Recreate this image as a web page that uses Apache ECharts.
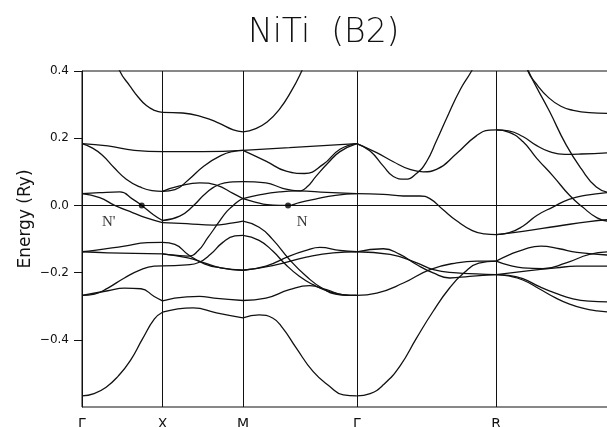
<!DOCTYPE html>
<html>
<head>
<meta charset="utf-8">
<script src="https://cdn.jsdelivr.net/npm/echarts@6/dist/echarts.min.js"></script>
<style>
  html, body { margin: 0; padding: 0; background: #fff; }
  #chart { width: 607px; height: 427px; }
</style>
</head>
<body>
<div id="chart"></div>
<script>
// high symmetry points along the path (k in units of Γ-X)
const kPoints = [0, 1, 2, 3.414, 5.146];
const kNames = ['Γ', 'X', 'M', 'Γ', 'R'];
const eTicks = [0.4, 0.2, 0, -0.2, -0.4];
const kMax = 6.56;
const eMin = -0.6, eMax = 0.4;

// Fermi surface crossing points
const fermiDots = [[0.742, 0], [2.56, 0]];
const dotNames = ["N'", 'N'];

// bands, one list of [k, E(Ry)] per band, per segment
const bandsGX = [
  [[0.43, 0.44], [0.469, 0.40], [0.594, 0.356], [0.70, 0.322], [0.80, 0.297], [0.90, 0.283], [1.0, 0.277]],
  [[0, 0.184], [0.321, 0.177], [0.65, 0.164], [1.0, 0.160]],
  [[0, 0.184], [0.12, 0.172], [0.25, 0.150], [0.40, 0.112], [0.55, 0.078], [0.72, 0.055], [0.87, 0.044], [1.0, 0.042]],
  [[0, 0.035], [0.22, 0.038], [0.47, 0.040], [0.634, 0.018], [0.742, 0.0], [0.883, -0.027], [1.0, -0.045]],
  [[0, 0.035], [0.22, 0.023], [0.406, 0.0], [0.634, -0.022], [0.80, -0.037], [1.0, -0.051]],
  [[0, -0.138], [0.156, -0.134], [0.527, -0.121], [0.815, -0.111], [1.0, -0.110]],
  [[0, -0.138], [0.321, -0.141], [0.65, -0.143], [1.0, -0.144]],
  [[0, -0.268], [0.156, -0.264], [0.321, -0.246], [0.527, -0.216], [0.733, -0.191], [0.897, -0.181], [1.0, -0.180]],
  [[0, -0.268], [0.321, -0.254], [0.527, -0.246], [0.733, -0.248], [0.897, -0.271], [1.0, -0.284]],
  [[0, -0.567], [0.15, -0.560], [0.30, -0.541], [0.45, -0.508], [0.60, -0.462], [0.75, -0.398], [0.90, -0.338], [1.0, -0.318]]
];

const bandsXM = [
  [[1.0, 0.277], [1.25, 0.275], [1.50, 0.263], [1.70, 0.245], [1.88, 0.225], [2.0, 0.219]],
  [[1.0, 0.160], [1.5, 0.160], [2.0, 0.164]],
  [[1.0, 0.042], [1.154, 0.047], [1.317, 0.075], [1.52, 0.118], [1.724, 0.148], [1.886, 0.161], [2.0, 0.164]],
  [[1.0, 0.042], [1.214, 0.058], [1.463, 0.067], [1.67, 0.060], [1.876, 0.036], [2.0, 0.020]],
  [[1.0, -0.045], [1.214, -0.032], [1.38, -0.002], [1.546, 0.038], [1.711, 0.063], [1.876, 0.070], [2.0, 0.071]],
  [[1.0, -0.051], [1.3, -0.054], [1.63, -0.059], [1.876, -0.052], [2.0, -0.047]],
  [[1.0, -0.110], [1.154, -0.116], [1.317, -0.146], [1.52, -0.174], [1.724, -0.186], [2.0, -0.193]],
  [[1.0, -0.144], [1.154, -0.148], [1.317, -0.151], [1.439, -0.136], [1.561, -0.097], [1.70, -0.050], [1.80, -0.018], [1.88, 0.0], [1.95, 0.014], [2.0, 0.020]],
  [[1.0, -0.144], [1.317, -0.156], [1.52, -0.171], [1.724, -0.186], [2.0, -0.193]],
  [[1.0, -0.180], [1.3, -0.177], [1.45, -0.170], [1.6, -0.145], [1.75, -0.110], [1.9, -0.091], [2.0, -0.089]],
  [[1.0, -0.284], [1.3, -0.272], [1.46, -0.271], [1.64, -0.276], [2.0, -0.283]],
  [[1.0, -0.318], [1.38, -0.305], [1.67, -0.320], [2.0, -0.335]]
];

const bandsMG = [
  [[2.0, 0.219], [2.15, 0.228], [2.30, 0.248], [2.45, 0.285], [2.60, 0.34], [2.73, 0.40], [2.82, 0.45]],
  [[2.0, 0.164], [2.577, 0.172], [2.996, 0.178], [3.414, 0.184]],
  [[2.0, 0.164], [2.285, 0.132], [2.536, 0.102], [2.766, 0.095], [2.996, 0.122], [3.205, 0.167], [3.414, 0.184]],
  [[2.0, 0.071], [2.285, 0.067], [2.494, 0.051], [2.682, 0.043], [2.787, 0.053], [2.912, 0.088], [3.059, 0.127], [3.205, 0.160], [3.414, 0.184]],
  [[2.0, 0.020], [2.201, 0.031], [2.452, 0.040], [2.682, 0.043], [3.038, 0.039], [3.414, 0.035]],
  [[2.0, 0.020], [2.15, 0.010], [2.30, 0.002], [2.45, 0.0], [2.56, 0.0], [2.70, 0.008], [2.90, 0.019], [3.15, 0.030], [3.414, 0.035]],
  [[2.0, -0.047], [2.201, -0.065], [2.368, -0.101], [2.577, -0.161], [2.787, -0.211], [2.996, -0.248], [3.205, -0.266], [3.414, -0.268]],
  [[2.0, -0.089], [2.2, -0.104], [2.37, -0.136], [2.53, -0.176], [2.70, -0.211], [2.87, -0.236], [3.05, -0.255], [3.25, -0.266], [3.414, -0.268]],
  [[2.0, -0.193], [2.285, -0.181], [2.577, -0.151], [2.787, -0.134], [2.954, -0.125], [3.205, -0.134], [3.414, -0.138]],
  [[2.0, -0.193], [2.368, -0.179], [2.787, -0.154], [3.121, -0.141], [3.414, -0.138]],
  [[2.0, -0.283], [2.285, -0.276], [2.577, -0.251], [2.828, -0.239], [3.038, -0.251], [3.247, -0.266], [3.414, -0.268]],
  [[2.0, -0.335], [2.201, -0.326], [2.368, -0.335], [2.494, -0.365], [2.661, -0.424], [2.870, -0.494], [3.079, -0.539], [3.247, -0.564], [3.414, -0.567]]
];

const bandsGR = [
  [[3.414, 0.184], [3.579, 0.162], [3.744, 0.117], [3.868, 0.086], [4.012, 0.078], [4.156, 0.095], [4.28, 0.13], [4.40, 0.19], [4.55, 0.27], [4.70, 0.345], [4.84, 0.40], [4.92, 0.44]],
  [[3.414, 0.184], [3.661, 0.157], [3.868, 0.130], [4.074, 0.107], [4.239, 0.100], [4.404, 0.107], [4.651, 0.154], [4.899, 0.207], [5.064, 0.224], [5.146, 0.225]],
  [[3.414, 0.035], [3.744, 0.033], [3.992, 0.028], [4.198, 0.028], [4.322, 0.02], [4.487, -0.013], [4.65, -0.045], [4.85, -0.075], [5.0, -0.085], [5.146, -0.087]],
  [[3.414, -0.138], [3.744, -0.129], [3.95, -0.146], [4.156, -0.176], [4.363, -0.201], [4.569, -0.216], [4.816, -0.211], [5.146, -0.206]],
  [[3.414, -0.138], [3.828, -0.146], [4.159, -0.171], [4.366, -0.191], [4.656, -0.201], [4.90, -0.204], [5.146, -0.206]],
  [[3.414, -0.268], [3.662, -0.261], [3.993, -0.231], [4.324, -0.191], [4.656, -0.171], [4.905, -0.166], [5.146, -0.166]],
  [[3.414, -0.567], [3.58, -0.560], [3.744, -0.534], [3.95, -0.478], [4.156, -0.395], [4.363, -0.315], [4.569, -0.245], [4.75, -0.200], [4.93, -0.172], [5.146, -0.166]]
];

const bandsRX = [
  [[5.50, 0.45], [5.538, 0.401], [5.65, 0.36], [5.80, 0.32], [5.95, 0.295], [6.10, 0.283], [6.30, 0.276], [6.56, 0.274]],
  [[5.50, 0.44], [5.54, 0.403], [5.808, 0.28], [6.015, 0.18], [6.20, 0.11], [6.39, 0.055], [6.56, 0.038]],
  [[5.146, 0.225], [5.30, 0.222], [5.477, 0.205], [5.65, 0.178], [5.808, 0.160], [6.0, 0.152], [6.2, 0.153], [6.56, 0.157]],
  [[5.146, 0.225], [5.30, 0.218], [5.477, 0.19], [5.65, 0.14], [5.85, 0.088], [6.057, 0.03], [6.22, -0.005], [6.40, -0.037], [6.56, -0.048]],
  [[5.146, -0.087], [5.30, -0.082], [5.477, -0.062], [5.65, -0.03], [5.85, -0.005], [6.05, 0.018], [6.25, 0.030], [6.56, 0.039]],
  [[5.146, -0.087], [5.477, -0.077], [5.9, -0.062], [6.3, -0.048], [6.56, -0.042]],
  [[5.146, -0.166], [5.30, -0.148], [5.477, -0.132], [5.70, -0.121], [5.93, -0.129], [6.15, -0.140], [6.56, -0.148]],
  [[5.146, -0.166], [5.30, -0.178], [5.477, -0.186], [5.726, -0.188], [6.015, -0.171], [6.305, -0.146], [6.56, -0.138]],
  [[5.146, -0.206], [5.56, -0.194], [5.89, -0.186], [6.14, -0.181], [6.56, -0.181]],
  [[5.146, -0.206], [5.30, -0.208], [5.477, -0.218], [5.684, -0.242], [5.89, -0.262], [6.1, -0.278], [6.30, -0.285], [6.56, -0.287]],
  [[5.146, -0.206], [5.30, -0.210], [5.477, -0.222], [5.68, -0.248], [5.89, -0.276], [6.05, -0.293], [6.22, -0.306], [6.40, -0.314], [6.56, -0.317]]
];

const allBands = [].concat(bandsGX, bandsXM, bandsMG, bandsGR, bandsRX);

const ink = '#111';

const bandSeries = allBands.map(b => ({
  type: 'line',
  data: b,
  smooth: 0.5,
  symbol: 'none',
  silent: true,
  lineStyle: { color: ink, width: 1.3 }
}));

// symmetry lines and the Fermi level
const guideLines = kPoints.slice(1).map(k => [{ coord: [k, eMin] }, { coord: [k, eMax] }])
  .concat([[{ coord: [0, 0] }, { coord: [kMax, 0] }]]);
const guideSeries = {
  type: 'line',
  data: [],
  silent: true,
  markLine: {
    symbol: 'none',
    silent: true,
    animation: false,
    label: { show: false },
    lineStyle: { color: ink, width: 1, type: 'solid' },
    data: guideLines
  }
};

const labelOffsets = [[-33, 17], [14, 17]];
const dotSeries = {
  type: 'scatter',
  symbolSize: 6,
  silent: true,
  z: 5,
  itemStyle: { color: '#000' },
  data: fermiDots.map((p, i) => ({
    value: p,
    label: {
      show: true,
      formatter: dotNames[i],
      position: 'inside',
      offset: labelOffsets[i],
      color: '#000',
      fontFamily: 'Liberation Serif',
      fontSize: 15
    }
  }))
};

const chart = echarts.init(document.getElementById('chart'), null, { renderer: 'canvas' });
chart.setOption({
  animation: false,
  backgroundColor: '#fff',
  title: {
    text: 'NiTi  (B2)',
    left: 243,
    top: 12,
    textStyle: { fontFamily: 'DejaVu Sans', fontWeight: 200, fontSize: 33, color: '#111' }
  },
  graphic: [{
    type: 'text',
    x: 26,
    y: 219,
    rotation: Math.PI / 2,
    style: {
      text: 'Energy (Ry)',
      x: 0,
      y: 0,
      align: 'center',
      verticalAlign: 'middle',
      font: '17px "DejaVu Sans"',
      fill: ink
    }
  }],
  grid: {
    left: 82, right: -3, top: 71, bottom: 20,
    outerBoundsMode: 'none',
    show: true, borderColor: ink, borderWidth: 1, backgroundColor: 'transparent'
  },
  xAxis: {
    type: 'value',
    min: 0,
    max: kMax,
    axisLine: { show: true, lineStyle: { color: ink, width: 1 } },
    axisTick: { show: true, length: 7, customValues: kPoints, lineStyle: { color: ink } },
    axisLabel: {
      customValues: kPoints,
      margin: 10,
      fontFamily: 'DejaVu Sans',
      fontSize: 14,
      color: ink,
      formatter: v => kNames[kPoints.findIndex(k => Math.abs(k - v) < 1e-6)] || ''
    },
    splitLine: { show: false }
  },
  yAxis: {
    type: 'value',
    min: eMin,
    max: eMax,
    interval: 0.2,
    axisLine: { show: true, lineStyle: { color: ink, width: 1 } },
    axisTick: { show: true, length: 8, customValues: eTicks, lineStyle: { color: ink } },
    axisLabel: {
      customValues: eTicks,
      margin: 13,
      fontFamily: 'DejaVu Sans',
      fontSize: 12,
      color: ink,
      formatter: v => (v < -1e-9 ? '\u2212' : '') + Math.abs(v).toFixed(1)
    },
    splitLine: { show: false }
  },
  series: bandSeries.concat([guideSeries, dotSeries])
});
</script>
</body>
</html>
